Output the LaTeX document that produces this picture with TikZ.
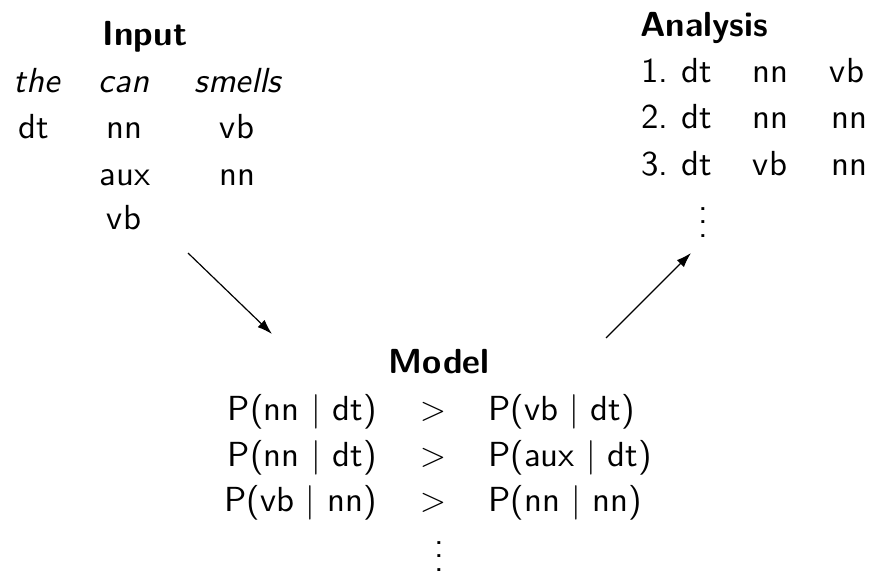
\documentclass[tikz,border=0pt]{standalone}
\usepackage{fontspec}
\setsansfont{lmsans10-regular.otf}[BoldFont=lmsans10-bold.otf, ItalicFont=lmsans10-oblique.otf]
\usetikzlibrary{arrows.meta}
\newcommand\myvdots{\vbox{\baselineskip6.6pt\lineskiplimit0pt\hbox{.}\hbox{.}\hbox{.}}}
\begin{document}
\begin{tikzpicture}[x=0.5pt,y=-0.5pt,
  txt/.style={inner sep=0pt, anchor=base, font=\sffamily\fontsize{17.4}{20}\selectfont},
  head/.style={inner sep=0pt, anchor=base, font=\sffamily\bfseries\fontsize{17.4}{20}\selectfont},
  word/.style={txt, font=\sffamily\itshape\fontsize{17.4}{20}\selectfont},
  dots/.style={txt},
  arr/.style={-{Latex[length=7.5pt,width=5pt]}, line width=0.6pt}]
\useasboundingbox (0,0) rectangle (872,574);
% Input
\node[head] (inhead) at (145,45) {Input};
\node[word] (w1) at (37,92) {the};
\node[word] (w2) at (124,92) {can};
\node[word] (w3) at (238,92) {smells};
\node[txt] (t11) at (34,138) {dt};
\node[txt] (t21) at (124,138) {nn};
\node[txt] (t31) at (237,138) {vb};
\node[txt] (t22) at (125,185) {aux};
\node[txt] (t32) at (237,185) {nn};
\node[txt] (t23) at (124,229) {vb};
% Analysis
\node[head] (anhead) at (704,36) {Analysis};
\node[txt,anchor=base west] (n1) at (641,82) {1.};
\node[txt] (a11) at (697,82) {dt};
\node[txt] (a12) at (770,82) {nn};
\node[txt] (a13) at (847,82) {vb};
\node[txt,anchor=base west] (n2) at (641,128) {2.};
\node[txt] (a21) at (697,128) {dt};
\node[txt] (a22) at (770,128) {nn};
\node[txt] (a23) at (849,128) {nn};
\node[txt,anchor=base west] (n3) at (641,175) {3.};
\node[txt] (a31) at (697,175) {dt};
\node[txt] (a32) at (770,175) {vb};
\node[txt] (a33) at (849,175) {nn};
\node[dots] (adots) at (703,237) {\myvdots};
% Model
\node[head] (mhead) at (439,373) {Model};
\node[txt,anchor=base east] (l1) at (377,420) {P(nn $\mid$ dt)};
\node[txt] (g1) at (433,420) {$>$};
\node[txt,anchor=base west] (r1) at (488,420) {P(vb $\mid$ dt)};
\node[txt,anchor=base east] (l2) at (377,466) {P(nn $\mid$ dt)};
\node[txt] (g2) at (433,466) {$>$};
\node[txt,anchor=base west] (r2) at (488,466) {P(aux $\mid$ dt)};
\node[txt,anchor=base east] (l3) at (377,511) {P(vb $\mid$ nn)};
\node[txt] (g3) at (433,511) {$>$};
\node[txt,anchor=base west] (r3) at (488,511) {P(nn $\mid$ nn)};
\node[dots] (mdots) at (439,571) {\myvdots};
% arrows
\coordinate (s1) at (188,253);
\coordinate (e1) at (272,334);
\coordinate (s2) at (606,338);
\coordinate (e2) at (691,253);
\draw[arr] (s1) -- (e1);
\draw[arr] (s2) -- (e2);
\end{tikzpicture}
\end{document}
